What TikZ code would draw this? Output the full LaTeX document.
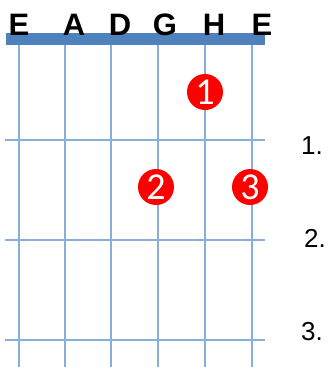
\documentclass[tikz,border=0pt]{standalone}
\usepackage{fontspec}
\setmainfont{Carlito}
\newfontfamily\arialfont{Liberation Sans}
\definecolor{gridblue}{HTML}{8AAEDB}
\definecolor{nutblue}{HTML}{4F81BD}
\definecolor{dotred}{HTML}{FF0000}
\tikzset{
  gridline/.style={draw=gridblue, line width=2pt},
  nutbar/.style={fill=nutblue, draw=none},
  stringlabel/.style={font=\arialfont\bfseries\fontsize{31}{31}\selectfont, anchor=base, inner sep=0pt},
  fingerdot/.style={circle, fill=dotred, draw=none, minimum size=36pt, inner sep=0pt, text=white, font=\fontsize{38}{38}\selectfont},
  fretlabel/.style={font=\arialfont\fontsize{26}{26}\selectfont, inner sep=0pt}
}
\begin{document}
\begin{tikzpicture}[x=1pt,y=-1pt]
\useasboundingbox (0,0) rectangle (329,367);
% strings
\foreach \n/\x in {1/18.5,2/64.5,3/111,4/158,5/205,6/252}{
  \coordinate (st\n) at (\x,45);
  \coordinate (sb\n) at (\x,367);
  \draw[gridline] (st\n) -- (sb\n);
}
% frets
\foreach \n/\y in {1/140,2/240,3/340}{
  \coordinate (fl\n) at (5,\y);
  \coordinate (fr\n) at (265,\y);
  \draw[gridline] (fl\n) -- (fr\n);
}
% nut
\path[nutbar] (6,33) rectangle (265,45);
% string names
\node[stringlabel] (lE) at (19,35.5) {E};
\node[stringlabel] (lA) at (74,35.5) {A};
\node[stringlabel] (lD) at (120,35.5) {D};
\node[stringlabel] (lG) at (165,35.5) {G};
\node[stringlabel] (lH) at (214,35.5) {H};
\node[stringlabel] (lE2) at (262,35.5) {E};
% finger dots
\node[fingerdot] (d1) at (205,92) {1};
\node[fingerdot] (d2) at (156,187) {2};
\node[fingerdot] (d3) at (250,187) {3};
% fret numbers
\node[fretlabel] (f1) at (312,146) {1.};
\node[fretlabel] (f2) at (315,238) {2.};
\node[fretlabel] (f3) at (312,332) {3.};
\end{tikzpicture}
\end{document}
